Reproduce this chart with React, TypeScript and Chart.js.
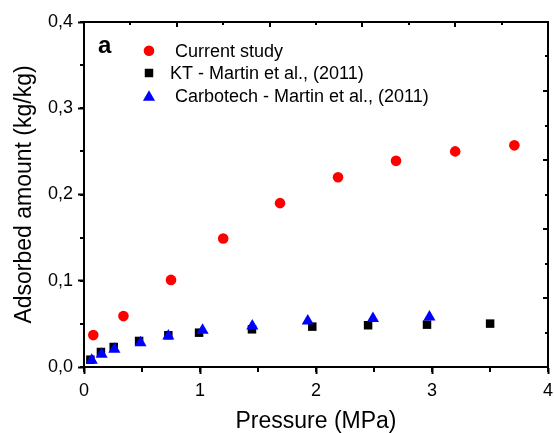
import React, { useEffect, useRef } from 'react';
import { Chart, registerables } from 'chart.js';
import { drawPoint } from 'chart.js/helpers';

Chart.register(...registerables);

// ---- data ----
const currentP = [0.08, 0.34, 0.75, 1.2, 1.69, 2.19, 2.69, 3.2, 3.71];
const currentQ = [0.037, 0.059, 0.101, 0.149, 0.19, 0.22, 0.239, 0.25, 0.257];

const ktP = [0.055, 0.146, 0.256, 0.475, 0.727, 0.992, 1.448, 1.968, 2.449, 2.957, 3.501];
const ktQ = [0.0085, 0.0174, 0.0232, 0.0302, 0.0368, 0.0398, 0.0437, 0.0468, 0.0484, 0.0491, 0.0503];

const carboP = [0.067, 0.152, 0.262, 0.487, 0.727, 1.022, 1.451, 1.929, 2.491, 2.978];
const carboQ = [0.0078, 0.0147, 0.0205, 0.028, 0.036, 0.0425, 0.0475, 0.0532, 0.0563, 0.058];

const seriesLabels = [' Current study', 'KT - Martin et al., (2011)', ' Carbotech - Martin et al., (2011)'];
const panelLabel = 'a';
const xTitle = 'Pressure (MPa)';
const yTitle = 'Adsorbed amount (kg/kg)';
const xRange = [0, 4];
const yRange = [0, 0.4];
const mirrorRange = [0, 5];

const FONT = '"Liberation Sans", Arial, Helvetica, sans-serif';

export default function App() {
  const ref = useRef<HTMLCanvasElement>(null);

  useEffect(() => {
    if (!ref.current) return;

    // tick marks of the helper (minor / mirror) scales, placed with each scale's own ticks
    const tickMarks = [
      { id: 'xMinor', len: 5 },
      { id: 'yMinor', len: -4 },
      { id: 'x2', len: 5 },
      { id: 'x2Minor', len: 3 },
      { id: 'y2', len: -5 },
      { id: 'y2Minor', len: -3 },
    ];

    const helperTicksPlugin = {
      id: 'helperTicks',
      afterDraw(chart: any) {
        const ctx = chart.ctx;
        const area = chart.chartArea;
        ctx.save();
        ctx.strokeStyle = '#000';
        ctx.lineWidth = 2;
        ctx.beginPath();
        for (const tm of tickMarks) {
          const s = chart.scales[tm.id];
          if (!s) continue;
          for (const t of s.ticks) {
            const p = Math.round(s.getPixelForValue(t.value));
            if (s.isHorizontal()) {
              const y0 = s.position === 'top' ? area.top : area.bottom;
              ctx.moveTo(p, y0);
              ctx.lineTo(p, y0 + tm.len);
            } else {
              const x0 = s.position === 'left' ? area.left : area.right;
              ctx.moveTo(x0, p);
              ctx.lineTo(x0 + tm.len, p);
            }
          }
        }
        ctx.stroke();
        ctx.restore();
      },
    };

    const legendPlugin = {
      id: 'insideLegend',
      afterDraw(chart: any) {
        const ctx = chart.ctx;
        ctx.save();
        ctx.textAlign = 'left';
        ctx.textBaseline = 'alphabetic';
        ctx.fillStyle = '#000';
        ctx.font = `bold 24px ${FONT}`;
        ctx.fillText(panelLabel, 98, 53);
        ctx.font = `18px ${FONT}`;
        const rows = [50.8, 73, 95.5];
        chart.data.datasets.forEach((ds: any, i: number) => {
          ctx.fillStyle = ds.backgroundColor;
          ctx.strokeStyle = ds.borderColor;
          ctx.lineWidth = 0;
          const yOff = ds.pointStyle === 'triangle' ? ds.pointRadius / 4 : 0;
          drawPoint(ctx, { pointStyle: ds.pointStyle, radius: ds.pointRadius, borderWidth: 0, rotation: 0 } as any, 149, rows[i] + yOff);
          ctx.fillStyle = '#000';
          ctx.fillText(ds.label, 170, rows[i] + 6.4);
        });
        ctx.restore();
      },
    };

    const tickGrid = (len: number) => ({
      drawOnChartArea: false,
      drawTicks: true,
      tickLength: len,
      tickWidth: 2,
      tickColor: '#000',
      color: '#000',
    });
    const hiddenTicks = (step: number) => ({ display: false, stepSize: step, autoSkip: false });
    const noGrid = { display: false };

    const chart = new Chart(ref.current, {
      type: 'scatter',
      data: {
        datasets: [
          {
            label: seriesLabels[0],
            data: currentP.map((x, i) => ({ x, y: currentQ[i] })),
            pointStyle: 'circle',
            pointRadius: 5.3,
            pointBorderWidth: 0,
            backgroundColor: '#ff0000',
            borderColor: '#ff0000',
            order: 2,
          },
          {
            label: seriesLabels[1],
            data: ktP.map((x, i) => ({ x, y: ktQ[i] })),
            pointStyle: 'rect',
            pointRadius: 6,
            pointBorderWidth: 0,
            backgroundColor: '#000000',
            borderColor: '#000000',
            order: 1,
          },
          {
            label: seriesLabels[2],
            data: carboP.map((x, i) => ({ x, y: carboQ[i] })),
            pointStyle: 'triangle',
            pointRadius: 7,
            pointBorderWidth: 0,
            backgroundColor: '#0000ff',
            borderColor: '#0000ff',
            order: 0,
          },
        ] as any,
      },
      options: {
        animation: false,
        responsive: false,
        devicePixelRatio: 1,
        events: [],
        layout: { padding: { top: 22, right: 6, left: 0, bottom: 0 }, autoPadding: false },
        plugins: { legend: { display: false }, tooltip: { enabled: false } },
        scales: {
          x: {
            type: 'linear',
            position: 'bottom',
            weight: 1,
            min: xRange[0],
            max: xRange[1],
            afterFit: (s: any) => { s.height = 66; s.paddingLeft = 0; s.paddingRight = 0; },
            ticks: {
              stepSize: 1,
              autoSkip: false,
              maxRotation: 0,
              padding: 6,
              color: '#000',
              font: { family: FONT, size: 18 },
              callback: (v: any) => String(v),
            },
            grid: tickGrid(7),
            border: { display: true, color: '#000', width: 2 },
            title: {
              display: true,
              text: xTitle,
              color: '#000',
              font: { family: FONT, size: 23, lineHeight: 1 },
              padding: { top: 0, bottom: 0 },
            },
          },
          xMinor: {
            type: 'linear',
            axis: 'x',
            position: 'bottom',
            weight: 0,
            min: xRange[0],
            max: xRange[1],
            afterFit: (s: any) => { s.height = 0; s.paddingLeft = 0; s.paddingRight = 0; },
            ticks: hiddenTicks(0.5),
            grid: noGrid,
            border: { display: false },
          },
          x2: {
            type: 'linear',
            axis: 'x',
            position: 'top',
            weight: 1,
            min: mirrorRange[0],
            max: mirrorRange[1],
            afterFit: (s: any) => { s.height = 0; s.paddingLeft = 0; s.paddingRight = 0; },
            ticks: hiddenTicks(1),
            grid: noGrid,
            border: { display: true, color: '#000', width: 2 },
          },
          x2Minor: {
            type: 'linear',
            axis: 'x',
            position: 'top',
            weight: 0,
            min: mirrorRange[0],
            max: mirrorRange[1],
            afterFit: (s: any) => { s.height = 0; s.paddingLeft = 0; s.paddingRight = 0; },
            ticks: hiddenTicks(0.5),
            grid: noGrid,
            border: { display: false },
          },
          y: {
            type: 'linear',
            position: 'left',
            weight: 1,
            min: yRange[0],
            max: yRange[1],
            afterFit: (s: any) => { s.width = 84; s.paddingTop = 0; s.paddingBottom = 0; },
            ticks: {
              stepSize: 0.1,
              autoSkip: false,
              padding: 5,
              color: '#000',
              font: { family: FONT, size: 18 },
              callback: (v: any) => Number(v).toFixed(1).replace('.', ','),
            },
            grid: tickGrid(6),
            border: { display: true, color: '#000', width: 2 },
            title: {
              display: true,
              text: yTitle,
              color: '#000',
              font: { family: FONT, size: 23, lineHeight: 1 },
              padding: { top: 13, bottom: 0 },
            },
          },
          yMinor: {
            type: 'linear',
            axis: 'y',
            position: 'left',
            weight: 0,
            min: yRange[0],
            max: yRange[1],
            afterFit: (s: any) => { s.width = 0; s.paddingTop = 0; s.paddingBottom = 0; },
            ticks: hiddenTicks(0.05),
            grid: noGrid,
            border: { display: false },
          },
          y2: {
            type: 'linear',
            axis: 'y',
            position: 'right',
            weight: 1,
            min: mirrorRange[0],
            max: mirrorRange[1],
            afterFit: (s: any) => { s.width = 0; s.paddingTop = 0; s.paddingBottom = 0; },
            ticks: hiddenTicks(1),
            grid: noGrid,
            border: { display: true, color: '#000', width: 2 },
          },
          y2Minor: {
            type: 'linear',
            axis: 'y',
            position: 'right',
            weight: 0,
            min: mirrorRange[0],
            max: mirrorRange[1],
            afterFit: (s: any) => { s.width = 0; s.paddingTop = 0; s.paddingBottom = 0; },
            ticks: hiddenTicks(0.5),
            grid: noGrid,
            border: { display: false },
          },
        } as any,
      },
      plugins: [helperTicksPlugin, legendPlugin],
    });

    return () => chart.destroy();
  }, []);

  return (
    <div style={{ position: 'absolute', left: 0, top: 0, width: 554, height: 433, background: '#fff' }}>
      <canvas ref={ref} width={554} height={433} style={{ display: 'block', width: 554, height: 433 }} />
    </div>
  );
}
